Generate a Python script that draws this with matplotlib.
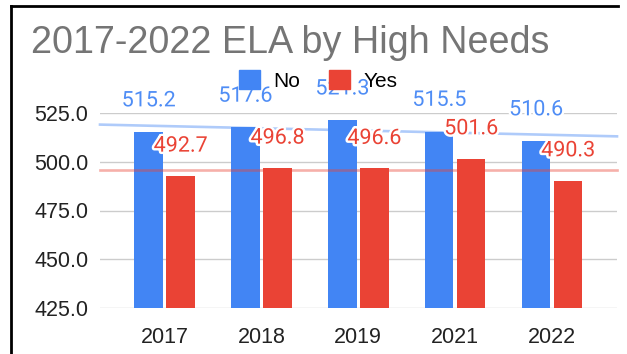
import numpy as np
import matplotlib.pyplot as plt
from matplotlib.lines import Line2D
from matplotlib.patches import Patch
import matplotlib.patheffects as pe

years = ["2017", "2018", "2019", "2021", "2022"]
no_vals = [515.2, 517.6, 521.3, 515.5, 510.6]
yes_vals = [492.7, 496.8, 496.6, 501.6, 490.3]
yticks = [425, 450, 475, 500, 525]

blue = "#4285f4"
red = "#ea4335"

plt.rcParams['font.family'] = ['Liberation Sans', 'DejaVu Sans']

fig = plt.figure(figsize=(6.27, 3.54), dpi=100)
W, H = 627, 354
ax = fig.add_axes([100 / W, (H - 308) / H, 517 / W, (308 - 113) / H])

x = np.arange(len(years))
bw = 0.294
off = 0.165
ax.bar(x - off, no_vals, bw, color=blue, zorder=2)
ax.bar(x + off, yes_vals, bw, color=red, zorder=2)

xl = (-0.666, 4.67)
ax.set_xlim(*xl)
ax.set_ylim(425, 525)

# linear trendlines over the category index
xs = np.array(xl)
for vals, c in [(no_vals, blue), (yes_vals, red)]:
    k, b = np.polyfit(x, vals, 1)
    ax.plot(xs, k * xs + b, color=c, alpha=0.42, lw=1.9, zorder=3, clip_on=False)

halo = [pe.withStroke(linewidth=3.5, foreground="white")]
for xi, v in zip(x, no_vals):
    ax.annotate(f"{v:.1f}", (xi - off, v), xytext=(0, 22.5), textcoords="offset points",
                ha="center", va="center", fontsize=15.5, color="#4f8df5", family="Roboto",
                path_effects=halo, zorder=5, annotation_clip=False)
for xi, v in zip(x, yes_vals):
    ax.annotate(f"{v:.1f}", (xi + off, v), xytext=(0, 21.5), textcoords="offset points",
                ha="center", va="center", fontsize=15.5, color=red, family="Roboto",
                path_effects=halo, zorder=5, annotation_clip=False)

ax.set_yticks(yticks)
ax.set_yticklabels([f"{t:.1f}" for t in yticks])
ax.set_xticks(x)
ax.set_xticklabels(years)
ax.tick_params(length=0, labelsize=15.5, colors="#222222")
ax.tick_params(axis="y", pad=8.5)
ax.tick_params(axis="x", pad=14)
ax.grid(axis="y", color="#cccccc", lw=1, zorder=0)
ax.set_axisbelow(True)
for s in ax.spines.values():
    s.set_visible(False)

fig.text(31 / W, 1 - 53 / H, "2017-2022 ELA by High Needs", fontsize=27.2,
         color="#757575", ha="left", va="baseline")

leg = fig.legend(handles=[Patch(color=blue, label="No"), Patch(color=red, label="Yes")],
                 loc="center left", bbox_to_anchor=(239 / W, 1 - 80.5 / H), ncol=2,
                 frameon=False, fontsize=15, handlelength=1.0, handleheight=1.0,
                 handletextpad=0.65, columnspacing=1.4, borderpad=0, borderaxespad=0)
leg.set_zorder(10)

# frame lines along the top and left edge
fig.add_artist(Line2D([10.5 / W, 618 / W], [1 - 6 / H, 1 - 6 / H], color="black", lw=2))
fig.add_artist(Line2D([10.5 / W, 10.5 / W], [0, 1 - 6 / H], color="black", lw=2))

fig.savefig("out.png", dpi=100)
